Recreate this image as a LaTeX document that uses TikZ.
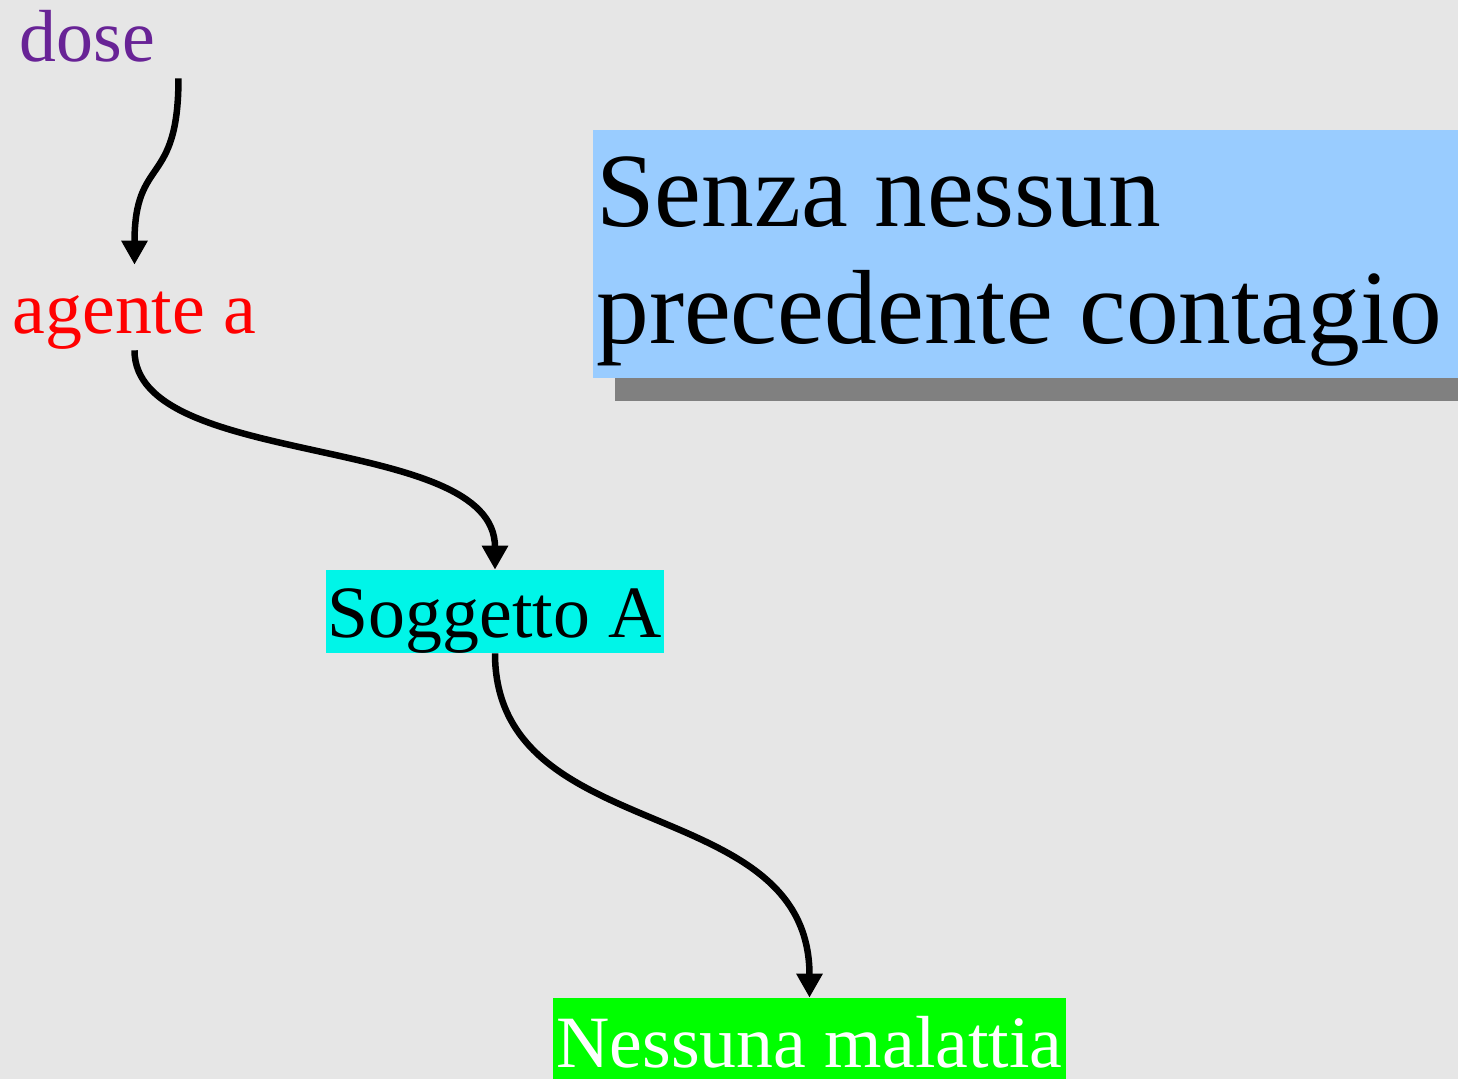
\documentclass[tikz,border=0pt]{standalone}
\usepackage{fontspec}
\setmainfont{Liberation Serif}
\usepackage{tikz}
\usetikzlibrary{positioning}
\usetikzlibrary{arrows.meta}
\usetikzlibrary{shadows}

\definecolor{bggray}{RGB}{230,230,230}
\definecolor{dosepurple}{RGB}{104,35,150}
\definecolor{titleblue}{RGB}{153,204,255}
\definecolor{shadowgray}{RGB}{128,128,128}
\definecolor{soggcyan}{RGB}{0,245,232}
\definecolor{malgreen}{RGB}{0,255,0}

\begin{document}
\begin{tikzpicture}[x=0.02cm,y=-0.02cm,
        lbl/.style={inner sep=0pt, anchor=base, font=\fontsize{42}{46}\selectfont, text height=1.36cm, text depth=0.34cm},
        flow/.style={-{Triangle[width=0.5cm,length=0.48cm]}, line width=0.13cm}]
        \useasboundingbox (0,0) rectangle (1458,1079);
        \clip (0,0) rectangle (1458,1079);
        \fill[bggray] (0,0) rectangle (1458,1079);

        % title box with shadow
        \node (titlebox) at (593,130) [anchor=north west, fill=titleblue, inner sep=0pt, minimum width=17.3cm, minimum height=4.96cm,
            general shadow={fill=shadowgray, shadow xshift=0.44cm, shadow yshift=-0.46cm}] {};
        \node (titleA) at ([shift={(3,96)}]titlebox.north west) [anchor=base west, inner sep=0pt, font=\fontsize{60}{66}\selectfont] {Senza nessun};
        \node (titleB) at ([shift={(0,117)}]titleA.base west) [anchor=base west, inner sep=0pt, font=\fontsize{60}{66}\selectfont] {precedente contagio};

        \node (dose) at (87.5,61) [lbl, text=dosepurple] {dose};
        \node (agente) at (134.5,333) [lbl, text=red] {agente a};
        \node (soggetto) at (495,637) [lbl, fill=soggcyan, minimum width=6.76cm, text height=1.34cm, text depth=0.32cm] {Soggetto A};
        \node (nessuna) at (809.5,1067) [lbl, text=white, fill=malgreen, minimum width=10.26cm, text height=1.38cm, text depth=0.4cm] {Nessuna malattia};

        \draw[flow] ([xshift=0.46cm]dose.south east) .. controls +(0,110) and +(0,-110) .. (agente.north);
        \draw[flow] (agente.south) .. controls +(0,120) and +(0,-138) .. (soggetto.north);
        \draw[flow] (soggetto.south) .. controls +(0,195) and +(0,-207) .. (nessuna.north);

    \end{tikzpicture}
\end{document}
